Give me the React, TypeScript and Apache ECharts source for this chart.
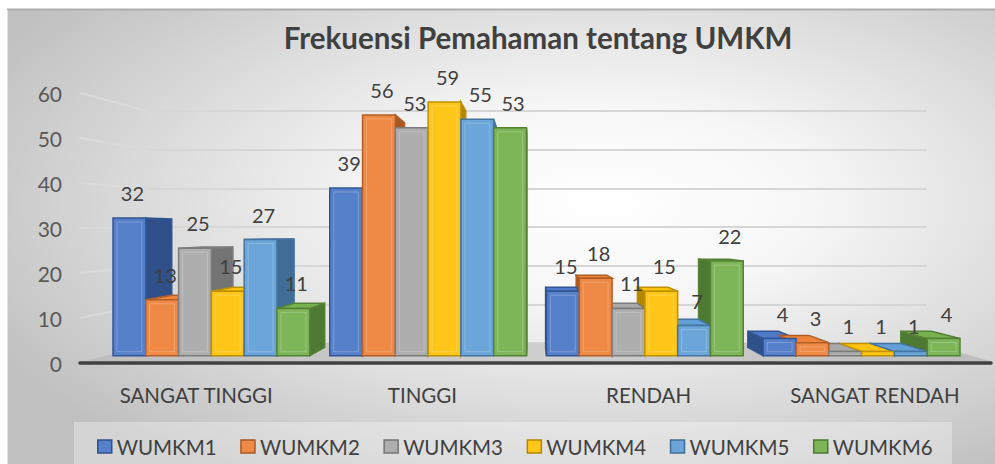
import React, { useEffect, useRef } from "react";
import * as echarts from "echarts";

const CATEGORIES = ["SANGAT TINGGI", "TINGGI", "RENDAH", "SANGAT RENDAH"];
const SERIES_NAMES = ["WUMKM1", "WUMKM2", "WUMKM3", "WUMKM4", "WUMKM5", "WUMKM6"];
const WUMKM1 = [32, 39, 15, 4];
const WUMKM2 = [13, 56, 18, 3];
const WUMKM3 = [25, 53, 11, 1];
const WUMKM4 = [15, 59, 15, 1];
const WUMKM5 = [27, 55, 7, 1];
const WUMKM6 = [11, 53, 22, 4];
const SERIES_VALUES = [WUMKM1, WUMKM2, WUMKM3, WUMKM4, WUMKM5, WUMKM6];
const Y_TICKS = [10, 20, 30, 40, 50, 60];
const TITLE = "Frekuensi Pemahaman tentang UMKM";

const COLORS = ["#4472C4", "#ED7D31", "#A5A5A5", "#FFC000", "#5B9BD5", "#70AD47"];
const FONT = 'Lato, "Open Sans", sans-serif';
const VP = [533, 232];
const DEPTH = 0.067;
const BAR_FRAC = 32.8 / 216.8;

function mix(hex: string, target: string, t: number): string {
  const p = (h: string) => [1, 3, 5].map((i) => parseInt(h.slice(i, i + 2), 16));
  const a = p(hex);
  const b = p(target);
  const c = a.map((v, i) => Math.round(v + (b[i] - v) * t));
  return "#" + c.map((v) => v.toString(16).padStart(2, "0")).join("");
}

export default function App() {
  const ref = useRef<HTMLDivElement>(null);
  useEffect(() => {
    const chart = echarts.init(ref.current!, null, { renderer: "svg" });

    const back = (x: number, y: number) => [x + DEPTH * (VP[0] - x), y + DEPTH * (VP[1] - y)];

    const series: any[] = SERIES_VALUES.map((vals, si) => {
      const base = COLORS[si];
      const front = mix(base, "#ffffff", 0.1);
      const stroke = mix(base, "#000000", 0.25);
      const side = mix(base, "#000000", 0.3);
      const top = mix(base, "#ffffff", 0.05);
      return {
        type: "custom",
        name: SERIES_NAMES[si],
        xAxisIndex: 0,
        yAxisIndex: 0,
        clip: false,
        itemStyle: { color: base },
        encode: { x: 0, y: 1 },
        data: vals.map((v, ci) => [ci, v]),
        renderItem: (params: any, api: any) => {
          const cat = api.value(0);
          const v = api.value(1);
          const pt = api.coord([cat, v]);
          const pb = api.coord([cat, 0]);
          const cw = api.size([1, 0])[0];
          const bw = cw * BAR_FRAC;
          const x0 = pt[0] - 3 * bw + si * bw;
          const x1 = x0 + bw;
          const yT = pt[1];
          const yB = pb[1];
          const children: any[] = [];
          const [bx0, byT] = back(x0, yT);
          const [bx1] = back(x1, yT);
          const [, byB] = back(x0, yB);
          if (x1 < VP[0]) {
            children.push({
              type: "polygon",
              shape: { points: [[x1, yT], [bx1, byT], [bx1, byB], [x1, yB]] },
              style: { fill: side, stroke: stroke, lineWidth: 1.5 },
              z2: 1,
            });
          } else if (x0 > VP[0]) {
            children.push({
              type: "polygon",
              shape: { points: [[x0, yT], [bx0, byT], [bx0, byB], [x0, yB]] },
              style: { fill: side, stroke: stroke, lineWidth: 1.5 },
              z2: 1,
            });
          }
          if (yT > VP[1]) {
            children.push({
              type: "polygon",
              shape: { points: [[x0, yT], [x1, yT], [bx1, byT], [bx0, byT]] },
              style: { fill: top, stroke: stroke, lineWidth: 1.5 },
              z2: 2,
            });
          }
          children.push({
            type: "polygon",
            shape: { points: [[x0, yT], [x1, yT], [x1, yB], [x0, yB]] },
            style: { fill: front, stroke: stroke, lineWidth: 1.5 },
            z2: 3,
          });
          if (yB - yT > 8) {
            children.push({
              type: "polygon",
              shape: { points: [[x0 + 4, yT + 4], [x1 - 4, yT + 4], [x1 - 4, yB - 4], [x0 + 4, yB - 4]] },
              style: { fill: "none", stroke: "rgba(255,255,255,0.22)", lineWidth: 1 },
              z2: 4,
            });
          }
          children.push({
            type: "text",
            x: (x0 + x1) / 2 + 3,
            y: yT - 25,
            style: {
              text: String(v),
              align: "center",
              verticalAlign: "middle",
              font: `20px ${FONT}`,
              fill: "#404040",
            },
            z2: 10,
          });
          return { type: "group", children };
        },
      };
    });

    const staticGraphic: any[] = [
      {
        id: "bg",
        type: "rect",
        z: -10,
        shape: { x: 7, y: 9, width: 990, height: 460 },
        style: {
          fill: new echarts.graphic.RadialGradient(0.6, 0.42, 0.7, [
            { offset: 0, color: "#ffffff" },
            { offset: 0.3, color: "#f7f7f7" },
            { offset: 1, color: "#c0c0c0" },
          ]),
        },
        silent: true,
      },
      {
        id: "topline",
        type: "line",
        z: -9,
        shape: { x1: 7, y1: 9.5, x2: 995, y2: 9.5 },
        style: { stroke: "#adadad", lineWidth: 2 },
      },
      {
        id: "leftline",
        type: "line",
        z: -9,
        shape: { x1: 7.5, y1: 10, x2: 7.5, y2: 464 },
        style: { stroke: "#e4e4e4", lineWidth: 1 },
      },
      {
        id: "legendbox",
        type: "rect",
        z: -8,
        shape: { x: 74, y: 422, width: 878, height: 50 },
        style: { fill: "rgba(255,255,255,0.32)" },
      },
      {
        id: "floor",
        type: "polygon",
        z: 1,
        shape: { points: [[148, 343], [927, 343], [990, 361], [88, 361]] },
        style: {
          fill: new echarts.graphic.LinearGradient(0, 0, 1, 0, [
            { offset: 0, color: "#bdbdbd" },
            { offset: 0.5, color: "#cfcfcf" },
            { offset: 1, color: "#bdbdbd" },
          ]),
        },
      },
      {
        id: "title",
        type: "text",
        z: 5,
        x: 538,
        y: 37,
        style: {
          text: TITLE,
          align: "center",
          verticalAlign: "middle",
          font: `bold 29.5px ${FONT}`,
          fill: "#404040",
        },
      },
    ];

    const option: any = {
      animation: false,
      backgroundColor: "#ffffff",
      textStyle: { fontFamily: FONT },
      grid: [
        { left: 103, right: 25, top: 97.7, height: 258 },
        { left: 80, right: 4, top: 93, height: 270 },
        { left: 148, right: 68, top: 111, height: 232 },
        { left: 83, right: 7, top: 93, height: 270 },
      ],
      xAxis: [
        { gridIndex: 0, type: "category", data: CATEGORIES, show: false },
        {
          gridIndex: 1,
          type: "value",
          min: 0,
          max: 1,
          axisLine: { show: true, lineStyle: { color: "#404040", width: 3.5 } },
          axisLabel: { show: false },
          axisTick: { show: false },
          splitLine: { show: false },
          z: 3,
        },
        { gridIndex: 2, type: "value", min: 0, max: 1, show: false },
        {
          gridIndex: 3,
          type: "category",
          data: CATEGORIES,
          axisLine: { show: false },
          axisTick: { show: false },
          axisLabel: { margin: 21, fontSize: 20.5, color: "#404040", fontFamily: FONT },
        },
      ],
      yAxis: [
        { gridIndex: 0, type: "value", min: 0, max: 60, interval: 10, show: false },
        {
          gridIndex: 1,
          type: "value",
          min: 0,
          max: 60,
          interval: 10,
          axisLine: { show: false },
          axisTick: { show: false },
          splitLine: { show: false },
          axisLabel: { margin: 18, fontSize: 21, color: "#595959", fontFamily: FONT },
        },
        {
          gridIndex: 2,
          type: "value",
          min: 0,
          max: 60,
          interval: 10,
          axisLine: { show: false },
          axisTick: { show: false },
          axisLabel: { show: false },
          splitLine: { show: true, lineStyle: { color: "#d6d6d6", width: 2 } },
        },
        { gridIndex: 3, type: "value", min: 0, max: 60, show: false },
      ],
      legend: {
        left: 74,
        top: 422,
        padding: [14, 6, 12, 23],
        itemWidth: 14,
        itemHeight: 13,
        itemGap: 23.6,
        textStyle: { fontSize: 20.5, color: "#404040", fontFamily: FONT },
        data: SERIES_NAMES.map((n, i) => ({
          name: n,
          icon: "rect",
          itemStyle: { color: mix(COLORS[i], "#ffffff", 0.1), borderColor: mix(COLORS[i], "#000000", 0.3), borderWidth: 1.5 },
        })),
      },
      graphic: staticGraphic,
      series,
    };

    chart.setOption(option);

    const wall = Y_TICKS.map((t, i) => {
      const a = chart.convertToPixel({ gridIndex: 1 } as any, [0, t]) as number[];
      const b = chart.convertToPixel({ gridIndex: 2 } as any, [0, t]) as number[];
      return {
        id: "wall" + i,
        type: "line",
        z: 1,
        shape: { x1: a[0], y1: a[1], x2: b[0], y2: b[1] },
        style: { stroke: "#dadada", lineWidth: 2 },
      };
    });
    chart.setOption({ graphic: [...staticGraphic, ...wall] });

    return () => chart.dispose();
  }, []);
  return <div ref={ref} style={{ position: "absolute", left: 0, top: 0, width: 995, height: 464 }} />;
}
